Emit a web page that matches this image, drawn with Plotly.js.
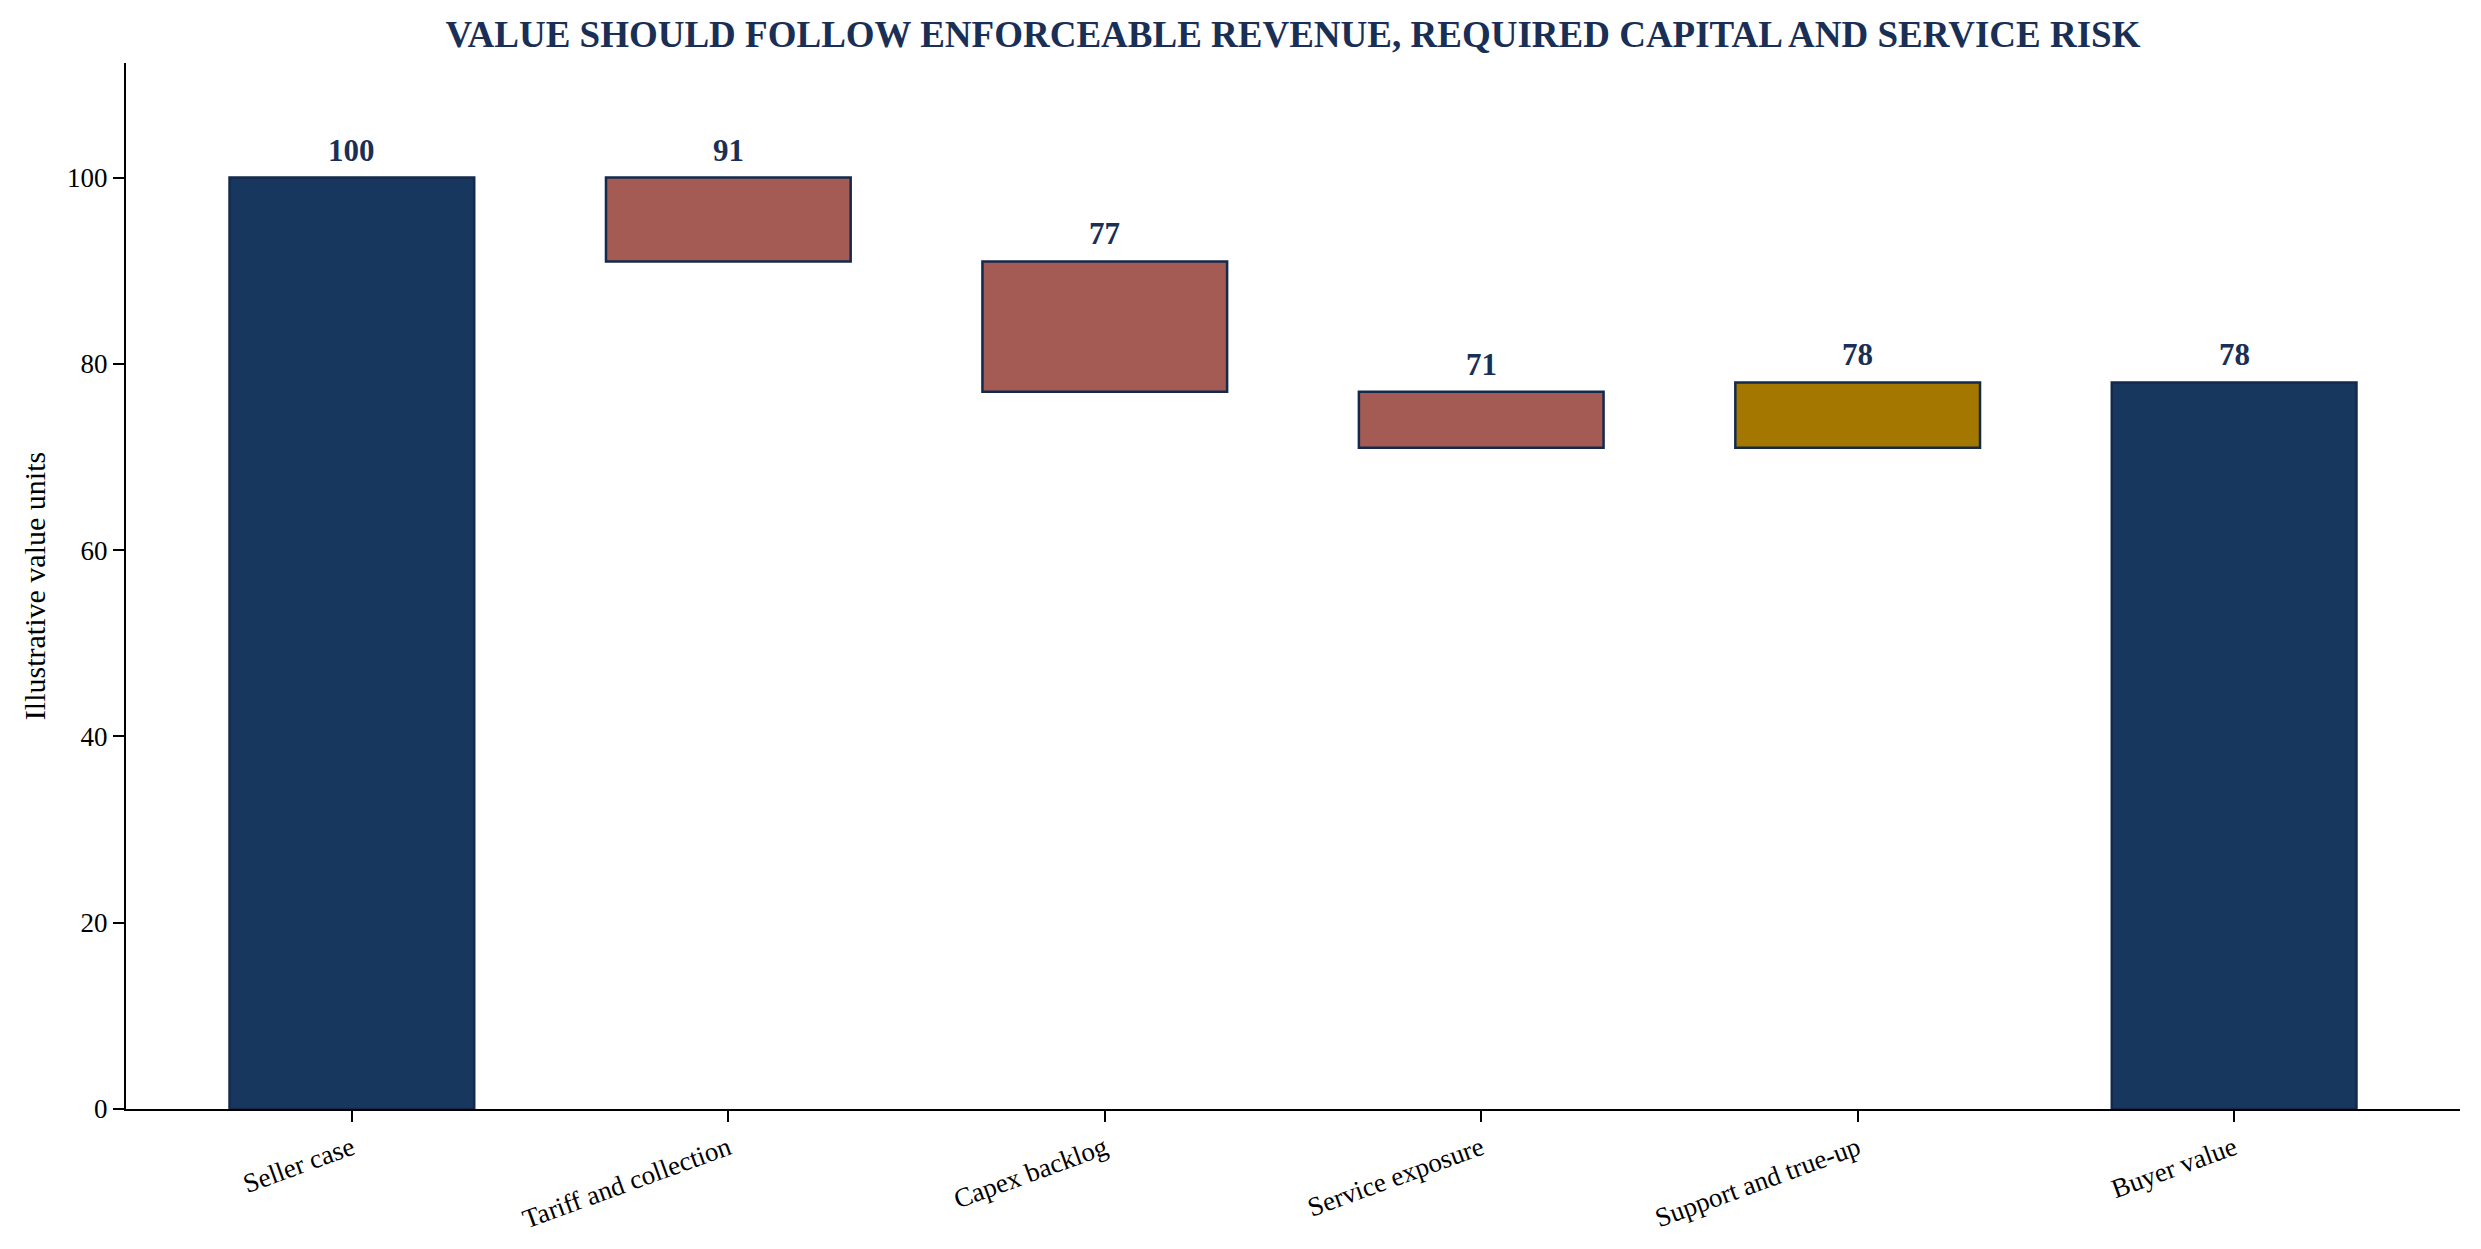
<!DOCTYPE html>
<html>
<head>
<meta charset="utf-8">
<script src="https://cdn.plot.ly/plotly-3.0.1.min.js"></script>
<style>html,body{margin:0;padding:0;background:#fff;}#chart{width:2481px;height:1249px;}</style>
</head>
<body>
<div id="chart"></div>
<script>
const categories = ["Seller case", "Tariff and collection", "Capex backlog", "Service exposure", "Support and true-up", "Buyer value"];
const startValue = 100;
const steps = [-9, -14, -6, 7];
const endValue = 78;
const yTicks = [0, 20, 40, 60, 80, 100];

const NAVY = "#17375e";
const EDGE = "#132a4c";
const NEG = "#a45b54";
const POS = "#a37700";

// build waterfall bases / heights from the data
const bases = [0];
const heights = [startValue];
const colors = [NAVY];
const labels = [startValue];
let running = startValue;
steps.forEach(d => {
  const next = running + d;
  bases.push(Math.min(running, next));
  heights.push(Math.abs(d));
  colors.push(d < 0 ? NEG : POS);
  labels.push(next);
  running = next;
});
bases.push(0);
heights.push(endValue);
colors.push(NAVY);
labels.push(endValue);

const trace = {
  type: "bar",
  x: categories,
  y: heights,
  base: bases,
  width: 0.65,
  marker: {color: colors, line: {color: EDGE, width: 2.5}},
  hoverinfo: "skip"
};

const annotations = categories.map((c, i) => ({
  x: c, y: bases[i] + heights[i], xref: "x", yref: "y",
  text: "<b>" + labels[i] + "</b>", showarrow: false,
  yanchor: "bottom", yshift: 8,
  font: {family: "Liberation Serif", size: 31, color: "#1a2f55"}
}));

const layout = {
  width: 2481, height: 1249,
  paper_bgcolor: "#fff", plot_bgcolor: "#fff",
  margin: {l: 126, r: 21, t: 63, b: 140},
  title: {
    text: "<b>VALUE SHOULD FOLLOW ENFORCEABLE REVENUE, REQUIRED CAPITAL AND SERVICE RISK</b>",
    font: {family: "Liberation Serif", size: 37, color: "#1a2f55"},
    x: 0.5, xref: "paper", y: 0.973, yanchor: "middle"
  },
  showlegend: false,
  bargap: 0.35,
  xaxis: {
    type: "category", range: [-0.6, 5.6],
    showline: true, linecolor: "#000", linewidth: 2,
    ticks: "outside", ticklen: 11, tickwidth: 2, tickcolor: "#000",
    tickangle: -20, showgrid: false, zeroline: false,
    tickfont: {family: "Liberation Serif", size: 27, color: "#000"}
  },
  yaxis: {
    range: [0, 112.3], tickvals: yTicks, ticktext: yTicks.map(String),
    showline: true, linecolor: "#000", linewidth: 2,
    ticks: "outside", ticklen: 11, tickwidth: 2, tickcolor: "#000",
    showgrid: false, zeroline: false,
    tickfont: {family: "Liberation Serif", size: 27, color: "#000"},
    title: {text: "Illustrative value units", standoff: 13,
      font: {family: "Liberation Serif", size: 30, color: "#000"}}
  },
  annotations: annotations
};

Plotly.newPlot("chart", [trace], layout, {staticPlot: true, displayModeBar: false});
</script>
</body>
</html>
